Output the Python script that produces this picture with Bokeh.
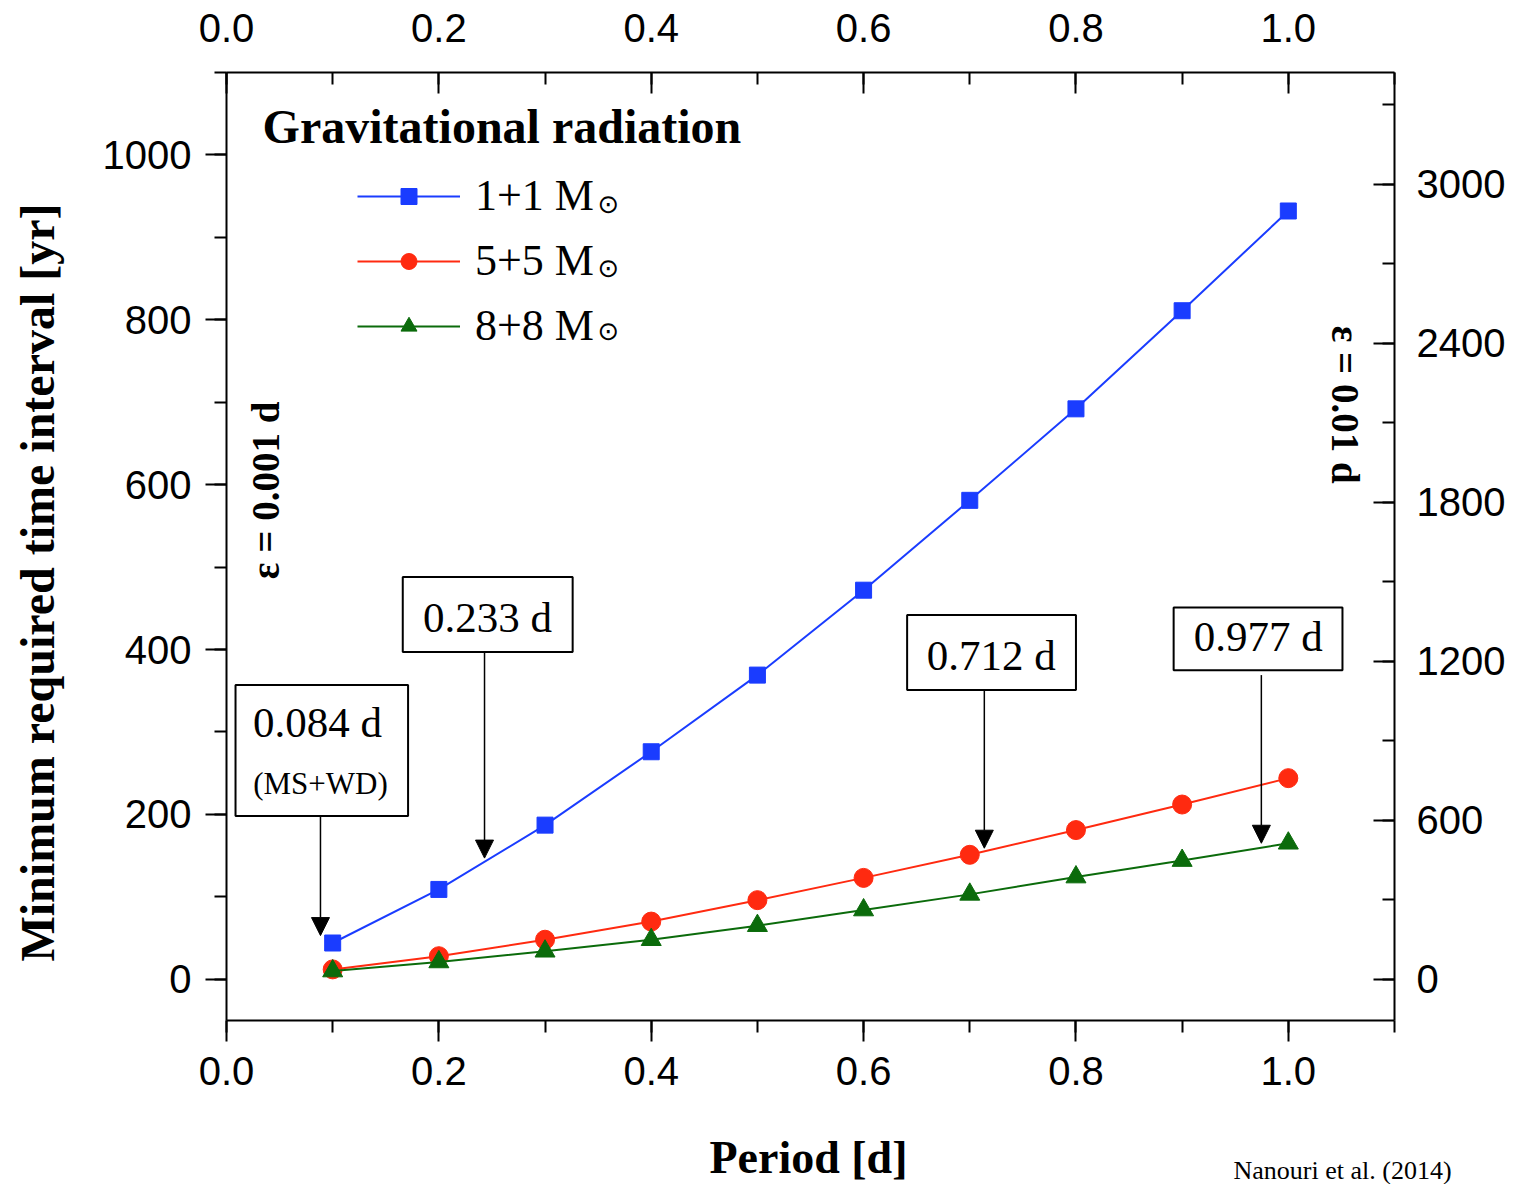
import numpy as np
from bokeh.plotting import figure
from bokeh.models import (Range1d, LinearAxis, SingleIntervalTicker, Label, Arrow,
                          NormalHead, Legend, LegendItem, BoxAnnotation, PrintfTickFormatter)
from bokeh.embed import file_html
from bokeh.resources import INLINE

# ---------------- data ----------------
period = [0.1, 0.2, 0.3, 0.4, 0.5, 0.6, 0.7, 0.8, 0.9, 1.0]
t_1_1 = [44, 109, 187, 276, 369, 472, 581, 692, 811, 932]
t_5_5 = [12, 28, 48, 70, 96, 123, 151, 181, 212, 244]
t_8_8 = [10, 21, 34, 48, 65, 84, 103, 124, 144, 165]
series_labels = ["1+1 M", "5+5 M", "8+8 M"]
sun_symbol = "\u2299"
series_colors = ["#1a3cff", "#ff2a10", "#0b6b0b"]
series_markers = ["square", "circle", "triangle"]

annot_texts = ["0.084 d", "0.233 d", "0.712 d", "0.977 d"]
annot_sub = "(MS+WD)"
# annotation layout (data units): arrow x, arrow start y, arrow end y
arrow_x = [0.0885, 0.243, 0.7137, 0.9746]
arrow_y0 = [198, 397, 351, 369]
arrow_y1 = [53, 147, 159, 165]
# boxes: left, right, bottom, top
box_l = [0.0085, 0.166, 0.641, 0.892]
box_r = [0.171, 0.326, 0.800, 1.051]
box_b = [198, 397, 351, 375]
box_t = [357, 488, 442, 451]
# label centres
lab_x = [0.0857, 0.2458, 0.7203, 0.9718]
lab_y = [312, 439, 393, 416]
# sun-symbol positions after the legend labels
sun_x = 0.3597
sun_y = [940, 863, 786]

SERIF = "Liberation Serif"
SANS = "Liberation Sans"

p = figure(width=1520, height=1184, x_range=Range1d(0, 1.1), y_range=Range1d(-50, 1100),
           min_border_left=226, min_border_right=126, min_border_top=72, min_border_bottom=164,
           output_backend="svg", toolbar_location=None)
p.outline_line_color = None
p.xgrid.visible = False
p.ygrid.visible = False
p.background_fill_color = "white"
p.border_fill_color = "white"

p.extra_y_ranges = {"right": Range1d(-50 * 3.11, 1100 * 3.11)}

def style_axis(ax, inward):
    ax.axis_line_width = 2
    ax.axis_line_color = "black"
    ax.major_tick_line_width = 2
    ax.minor_tick_line_width = 2
    ax.major_tick_line_color = "black"
    ax.minor_tick_line_color = "black"
    if inward:
        ax.major_tick_in = 21
        ax.major_tick_out = 0
        ax.minor_tick_in = 12
        ax.minor_tick_out = 0
    else:
        ax.major_tick_in = 0
        ax.major_tick_out = 21
        ax.minor_tick_in = 0
        ax.minor_tick_out = 12
    ax.major_label_text_font = SANS
    ax.major_label_text_font_size = "40px"
    ax.major_label_text_color = "black"
    ax.axis_label_text_font = SERIF
    ax.axis_label_text_font_style = "bold"
    ax.axis_label_text_color = "black"

xb = p.xaxis[0]
xb.ticker = SingleIntervalTicker(interval=0.2, num_minor_ticks=2)
xb.formatter = PrintfTickFormatter(format="%.1f")
style_axis(xb, False)
xb.major_label_standoff = 15

yl = p.yaxis[0]
yl.ticker = SingleIntervalTicker(interval=200, num_minor_ticks=2)
style_axis(yl, False)
yl.major_label_standoff = 14
# trailing en-spaces shift the visible title downward along the axis, as in the original
yl.axis_label = "Minimum required time interval [yr]\u2002\u2002\u2002"
yl.axis_label_text_font_size = "48px"
yl.axis_label_standoff = 36

xt = LinearAxis(ticker=SingleIntervalTicker(interval=0.2, num_minor_ticks=2),
                formatter=PrintfTickFormatter(format="%.1f"))
style_axis(xt, True)
xt.major_label_standoff = 31
p.add_layout(xt, "above")

yr = LinearAxis(y_range_name="right", ticker=SingleIntervalTicker(interval=600, num_minor_ticks=2))
style_axis(yr, True)
yr.major_label_standoff = 22
p.add_layout(yr, "right")

# bottom side panel: source note (inner slot) and x-axis title (outer slot)
p.add_layout(Label(x=1007, y=-68, x_units="screen", y_units="screen",
                   text="Nanouri et al. (2014)", text_align="left", text_baseline="bottom",
                   text_font=SERIF, text_font_size="26px", text_color="black"), "below")
p.add_layout(Label(x=582, y=10, x_units="screen", y_units="screen",
                   text="Period [d]", text_align="center", text_baseline="middle",
                   text_font=SERIF, text_font_style="bold", text_font_size="46px",
                   text_color="black"), "below")

# ---------------- series ----------------
items = []
for ys, lab, col, mk, sz in zip([t_1_1, t_5_5, t_8_8], series_labels, series_colors,
                                series_markers, [16, 19, 20]):
    lr = p.line(period, ys, line_color=col, line_width=2)
    sr = p.scatter(period, ys, marker=mk, size=sz, fill_color=col, line_color=col)
    items.append(LegendItem(label=lab, renderers=[lr, sr]))

legend = Legend(items=items, location=(131, 669), margin=0, padding=0,
                glyph_width=103, glyph_height=40, label_height=40, spacing=14,
                label_standoff=15, border_line_color=None, background_fill_alpha=0,
                label_text_font=SERIF, label_text_font_size="44px", label_text_color="black")
p.add_layout(legend, "center")

for sy in sun_y:
    p.add_layout(Label(x=sun_x, y=sy, text=sun_symbol, text_align="center",
                       text_baseline="middle", text_font="DejaVu Sans",
                       text_font_size="26px", text_color="black"))

# ---------------- annotations ----------------
for l, r, b, t in zip(box_l, box_r, box_b, box_t):
    p.add_layout(BoxAnnotation(left=l, right=r, bottom=b, top=t, fill_color="white",
                               fill_alpha=1.0, line_color="black", line_width=2, line_alpha=1.0))

for x, y0, y1 in zip(arrow_x, arrow_y0, arrow_y1):
    p.add_layout(Arrow(end=NormalHead(size=18, fill_color="black", line_color="black"),
                       x_start=x, y_start=y0, x_end=x, y_end=y1,
                       line_color="black", line_width=1.5))

for i, (txt, x, y) in enumerate(zip(annot_texts, lab_x, lab_y)):
    p.add_layout(Label(x=x, y=y, text=txt, text_align="center", text_baseline="middle",
                       text_font=SERIF, text_font_size="43px", text_color="black"))
p.add_layout(Label(x=0.0885, y=238, text=annot_sub, text_align="center", text_baseline="middle",
                   text_font=SERIF, text_font_size="31px", text_color="black"))

p.add_layout(Label(x=0.034, y=1034, text="Gravitational radiation", text_align="left",
                   text_baseline="middle", text_font=SERIF, text_font_style="bold",
                   text_font_size="48px", text_color="black"))

p.add_layout(Label(x=0.0367, y=593, text="\u03b5 = 0.001 d", angle=np.pi / 2,
                   text_align="center", text_baseline="middle", text_font=SERIF,
                   text_font_style="bold", text_font_size="39px", text_color="black"))
p.add_layout(Label(x=1.054, y=697, text="\u03b5 = 0.01 d", angle=-np.pi / 2,
                   text_align="center", text_baseline="middle", text_font=SERIF,
                   text_font_style="bold", text_font_size="39px", text_color="black"))

open("out.html", "w").write(file_html(p, INLINE))
